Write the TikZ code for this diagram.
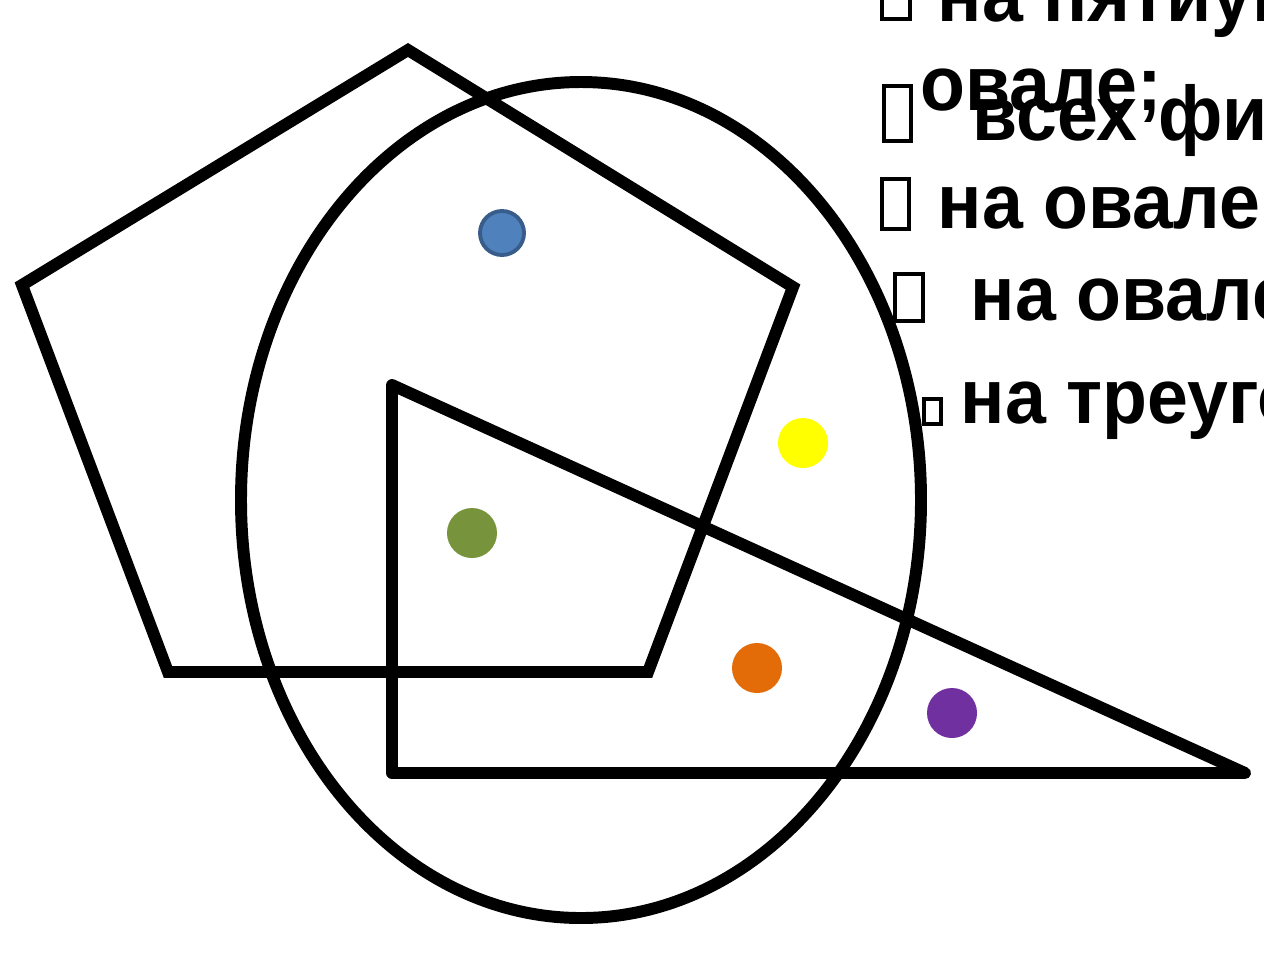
\documentclass[tikz,border=0pt]{standalone}
\usepackage{fontspec}
\setmainfont{Liberation Sans}[BoldFeatures={FakeStretch=0.95}]
\definecolor{dotblue}{HTML}{4F81BD}
\definecolor{dotblueedge}{HTML}{385D8A}
\definecolor{dotyellow}{HTML}{FFFF00}
\definecolor{dotgreen}{HTML}{77933C}
\definecolor{dotorange}{HTML}{E36C09}
\definecolor{dotpurple}{HTML}{7030A0}
\begin{document}
\begin{tikzpicture}[x=0.01cm,y=-0.01cm,
  shape line/.style={line width=3.4pt,line join=miter,black},
  dot/.style={circle,inner sep=0pt,minimum size=0.5cm,draw=none},
  label text/.style={anchor=base west,inner sep=0pt,font=\fontsize{22pt}{26pt}\selectfont\bfseries},
  glyph box/.style={draw=black,line width=1.1pt}]
\useasboundingbox (0,0) rectangle (1264,966);
\clip (0,0) rectangle (1264,966);
\fill[white] (0,0) rectangle (1264,966);
% pentagon
\coordinate (p1) at (408,50);
\coordinate (p2) at (793,287);
\coordinate (p3) at (648,672);
\coordinate (p4) at (168,672);
\coordinate (p5) at (22,285);
\draw[shape line] (p1) -- (p2) -- (p3) -- (p4) -- (p5) -- cycle;
% oval
\coordinate (oc) at (581,500);
\draw[shape line] (oc) ellipse [x radius=340, y radius=418];
% triangle
\coordinate (t1) at (392,385);
\coordinate (t2) at (392,773);
\coordinate (t3) at (1245,773);
\draw[shape line,line join=round] (t1) -- (t2) -- (t3) -- cycle;
% dots
\node[dot,fill=dotblue,draw=dotblueedge,line width=1.1pt,minimum size=0.44cm] (blue) at (502,233) {};
\node[dot,fill=dotyellow] (yellow) at (803,443) {};
\node[dot,fill=dotgreen] (green) at (472,533) {};
\node[dot,fill=dotorange] (orange) at (757,668) {};
\node[dot,fill=dotpurple] (purple) at (952,713) {};
% text lines
\draw[glyph box] (882,-10) rectangle (910,19);
\node[label text] (l1) at (937,21) {на пятиугольнике};
\node[label text] (l2) at (920,110) {овале;};
\draw[glyph box] (884,86) rectangle (911,141);
\node[label text] (l3) at (972,140) {всех фигурах};
\draw[glyph box] (882,179) rectangle (909,229);
\node[label text] (l4) at (937,228) {на овале};
\draw[glyph box] (895,274) rectangle (923,321);
\node[label text] (l5) at (970,320) {на овале};
\draw[glyph box] (924,399) rectangle (941,424);
\node[label text] (l6) at (960,423) {на треугольнике};
\end{tikzpicture}
\end{document}
